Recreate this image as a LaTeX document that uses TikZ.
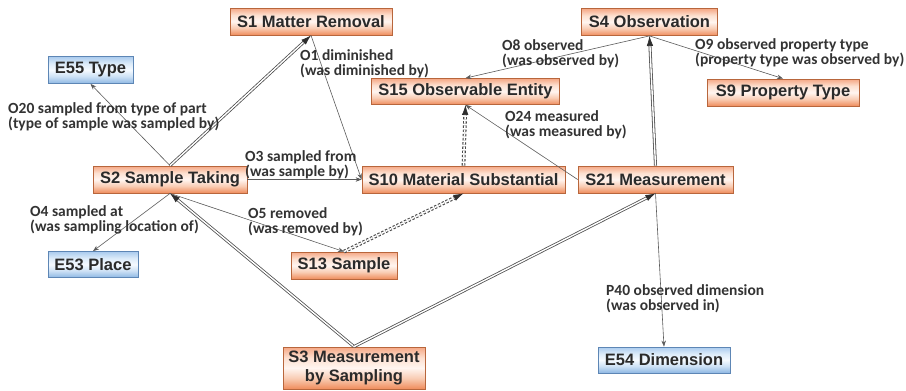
\documentclass[tikz,border=0pt]{standalone}
\usepackage{fontspec}
\setmainfont{Liberation Sans}
\newfontfamily\lblfont{Carlito}
\usetikzlibrary{arrows.meta,calc}
\definecolor{orB}{HTML}{EF8C5C}
\definecolor{orB2}{HTML}{F9CDB5}
\definecolor{orM}{HTML}{FFF5F0}
\definecolor{orT2}{HTML}{FDE0D0}
\definecolor{orT}{HTML}{F5A784}
\definecolor{orBd}{HTML}{B8663C}
\definecolor{blB}{HTML}{8DB7E3}
\definecolor{blB2}{HTML}{CDE1F5}
\definecolor{blM}{HTML}{F5FAFF}
\definecolor{blT2}{HTML}{DCEBF9}
\definecolor{blT}{HTML}{AACBEE}
\definecolor{blBd}{HTML}{5D86B5}
\definecolor{txt}{HTML}{2A2A2A}
\definecolor{lbc}{HTML}{333333}
\definecolor{lnc}{HTML}{5A5A5A}
\definecolor{dbc}{HTML}{505050}
\definecolor{dtc}{HTML}{4A4A4A}
\definecolor{tipc}{HTML}{2E2E2E}
\pgfdeclareverticalshading{orsh}{100bp}{color(0bp)=(orB); color(25bp)=(orB); color(38bp)=(orB2); color(50bp)=(orM); color(62bp)=(orT2); color(75bp)=(orT); color(100bp)=(orT)}
\pgfdeclareverticalshading{blsh}{100bp}{color(0bp)=(blB); color(25bp)=(blB); color(38bp)=(blB2); color(50bp)=(blM); color(62bp)=(blT2); color(75bp)=(blT); color(100bp)=(blT)}
\tikzset{
  boxbase/.style={line width=0.8pt, shade, inner sep=0pt, minimum height=27pt,
    font=\bfseries\fontsize{16.5}{18.5}\selectfont, text=txt},
  obox/.style={boxbase, draw=orBd, shading=orsh},
  bbox/.style={boxbase, draw=blBd, shading=blsh},
  thinarr/.style={draw=lnc, line width=0.6pt, -{Stealth[length=6pt,width=4.5pt]}},
  dblline/.style={draw=dbc, double=white, double distance=1.4pt, line width=0.8pt, shorten >=7pt},
  dotline/.style={draw=dtc, double=white, double distance=1.5pt, line width=1.1pt, shorten >=7pt,
    dash pattern=on 2.4pt off 1.8pt},
  dbltip/.style={draw=tipc, fill=tipc, line width=0.6pt, -{Latex[length=10pt,width=6.5pt]}},
  lbl/.style={anchor=north west, inner sep=0pt, align=left,
    font=\lblfont\bfseries\fontsize{15.5}{15}\selectfont, text=lbc}
}
\begin{document}
\begin{tikzpicture}[x=1pt,y=-1pt]
\useasboundingbox (0,0) rectangle (906,391);
% nodes
\node[obox, minimum width=162pt] (s1) at (311,21.5) {S1 Matter Removal};
\node[bbox, minimum width=85pt] (e55) at (90.5,70) {E55 Type};
\node[obox, minimum width=136pt] (s4) at (649.5,22) {S4 Observation};
\node[obox, minimum width=188pt, minimum height=26pt] (s15) at (465.5,91.5) {S15 Observable Entity};
\node[obox, minimum width=152pt] (s9) at (783,92.5) {S9 Property Type};
\node[obox, minimum width=154pt] (s2) at (170,179.5) {S2 Sample Taking};
\node[obox, minimum width=203pt] (s10) at (463.5,179.5) {S10 Material Substantial};
\node[obox, minimum width=155pt] (s21) at (655.5,179.5) {S21 Measurement};
\node[bbox, minimum width=90pt, minimum height=26pt] (e53) at (93,264.5) {E53 Place};
\node[obox, minimum width=106pt] (s13) at (344,265.5) {S13 Sample};
\node[obox, minimum width=142pt, minimum height=42pt, align=center] (s3) at (354,368) {S3 Measurement\\by Sampling};
\node[bbox, minimum width=132pt, minimum height=26pt] (e54) at (664,360) {E54 Dimension};
% thin connectors
\draw[thinarr] (s2.north) -- (e55.south);
\draw[thinarr] (s1.south) -- (s10.west);
\draw[thinarr] (s2.east) -- (s10.west);
\draw[thinarr] (s2.south) -- (e53.north);
\draw[thinarr] (s2.south) -- (s13.north);
\draw[thinarr] (s21.west) -- (s15.south);
\draw[thinarr] (s4.south) -- (s15.north);
\draw[thinarr] (s4.south) -- (s9.north);
\draw[thinarr] (s21.south) -- (e54.north);
% double connectors
\draw[dblline] (s2.north) -- (s1.south);
\draw[dbltip] ($(s1.south)!10pt!(s2.north)$) -- (s1.south);
\draw[dblline] (s3.north) -- (s2.south);
\draw[dbltip] ($(s2.south)!10pt!(s3.north)$) -- (s2.south);
\draw[dblline] (s3.north) -- (s21.south);
\draw[dbltip] ($(s21.south)!10pt!(s3.north)$) -- (s21.south);
\draw[dblline] (s21.north) -- (s4.south);
\draw[dbltip] ($(s4.south)!10pt!(s21.north)$) -- (s4.south);
% dotted double connectors
\draw[dotline] (s13.north) -- (s10.south);
\draw[dbltip] ($(s10.south)!10pt!(s13.north)$) -- (s10.south);
\draw[dotline] (s10.north) -- (s15.south);
\draw[dbltip] ($(s15.south)!10pt!(s10.north)$) -- (s15.south);
% labels
\node[lbl] (l20) at (8,102.5) {O20 sampled from type of part\\(type of sample was sampled by)};
\node[lbl] (l1) at (300,49) {O1 diminished\\(was diminished by)};
\node[lbl] (l3) at (245,150) {O3 sampled from\\(was sample by)};
\node[lbl] (l4) at (30,205.5) {O4 sampled at\\(was sampling location of)};
\node[lbl] (l5) at (248,207) {O5 removed\\(was removed by)};
\node[lbl] (l8) at (502,39.5) {O8 observed\\(was observed by)};
\node[lbl] (l9) at (695,38) {O9 observed property type\\(property type was observed by)};
\node[lbl] (l24) at (505,110) {O24 measured\\(was measured by)};
\node[lbl] (l40) at (606,284.5) {P40 observed dimension\\(was observed in)};
\end{tikzpicture}
\end{document}
